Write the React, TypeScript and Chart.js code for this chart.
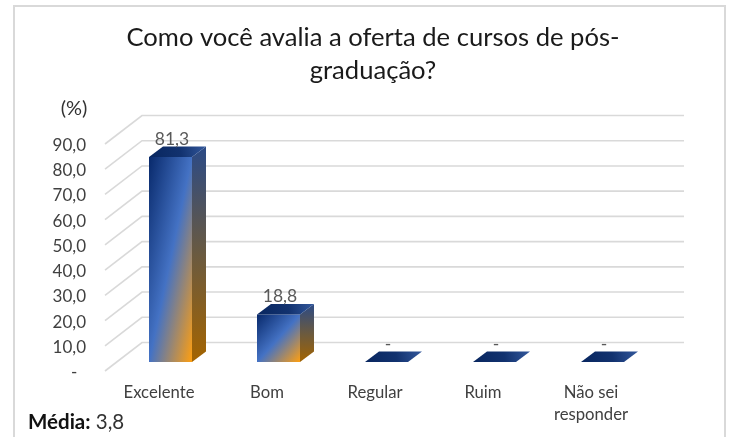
import React, { useEffect, useRef } from "react";
import { Chart, registerables } from "chart.js";

Chart.register(...registerables);

const categories = ["Excelente", "Bom", "Regular", "Ruim", ["Não sei", "responder"]];
const values = [81.3, 18.8, 0, 0, 0];
const valueLabels = ["81,3", "18,8", "-", "-", "-"];
const titleLines = ["Como você avalia a oferta de cursos de pós-", "graduação?"];
const unitLabel = "(%)";
const noteBold = "Média:";
const noteValue = " 3,8";

const FONT = "Lato, Carlito, sans-serif";
const GRID = "#d9d9d9";
// oblique projection of the 3D chart
const WALL_DX = 37;
const WALL_DY = -28.5;
const BAR_DX = 11.5;
const BAR_DY = -9;
const DEPTH_DX = 14;
const DEPTH_DY = -10.5;
const BAR_W = 43;

function frontGradient(ctx: CanvasRenderingContext2D, x: number, y: number, w: number, h: number) {
  const k = 2 * w * h / (h * h + w * w);
  const g = ctx.createLinearGradient(x, y, x + k * h, y + k * w);
  g.addColorStop(0, "#08296b");
  g.addColorStop(0.5, "#4472c4");
  g.addColorStop(1, "#ff9f10");
  return g;
}

const wallPlugin = {
  id: "wall",
  beforeDraw(chart: any) {
    const { ctx, chartArea, scales } = chart;
    const y = scales.y;
    ctx.save();
    ctx.fillStyle = "#ffffff";
    ctx.fillRect(0, 0, chart.width, chart.height);
    ctx.strokeStyle = GRID;
    ctx.lineWidth = 2;
    ctx.strokeRect(14, 6, 711, 440);
    ctx.lineWidth = 1.6;
    y.ticks.forEach((t: any) => {
      const py = y.getPixelForValue(t.value);
      ctx.beginPath();
      ctx.moveTo(chartArea.left, py);
      ctx.lineTo(chartArea.left + WALL_DX, py + WALL_DY);
      ctx.lineTo(chartArea.right + WALL_DX + 2, py + WALL_DY);
      ctx.stroke();
    });
    ctx.restore();
  },
  beforeDatasetsDraw(chart: any) {
    chart.ctx.save();
    chart.ctx.translate(BAR_DX, BAR_DY);
  },
  afterDatasetsDraw(chart: any) {
    const { ctx } = chart;
    const meta = chart.getDatasetMeta(0);
    meta.data.forEach((el: any, i: number) => {
      const left = el.x - el.width / 2;
      const right = el.x + el.width / 2;
      const top = el.y;
      const bottom = el.base;
      // side face
      if (bottom - top > 0.5) {
        const s = ctx.createLinearGradient(0, top + DEPTH_DY, 0, bottom);
        s.addColorStop(0, "#2b4a86");
        s.addColorStop(0.5, "#6a5a40");
        s.addColorStop(1, "#a46400");
        ctx.fillStyle = s;
        ctx.beginPath();
        ctx.moveTo(right, top);
        ctx.lineTo(right + DEPTH_DX, top + DEPTH_DY);
        ctx.lineTo(right + DEPTH_DX, bottom + DEPTH_DY);
        ctx.lineTo(right, bottom);
        ctx.closePath();
        ctx.fill();
      }
      // top face
      const t = ctx.createLinearGradient(left, top, right + DEPTH_DX, top + DEPTH_DY);
      t.addColorStop(0, "#08265f");
      t.addColorStop(0.55, "#12326f");
      t.addColorStop(1, "#33589c");
      ctx.fillStyle = t;
      ctx.beginPath();
      ctx.moveTo(left, top);
      ctx.lineTo(left + DEPTH_DX, top + DEPTH_DY);
      ctx.lineTo(right + DEPTH_DX, top + DEPTH_DY);
      ctx.lineTo(right, top);
      ctx.closePath();
      ctx.fill();
      // value label
      ctx.fillStyle = "#595959";
      ctx.font = `17.5px ${FONT}`;
      ctx.textAlign = "center";
      ctx.textBaseline = "middle";
      ctx.fillText(valueLabels[i], el.x + 1.5, top - 18);
    });
    ctx.restore();

    ctx.save();
    ctx.textBaseline = "middle";
    ctx.textAlign = "center";
    ctx.fillStyle = "#333333";
    ctx.font = `20px ${FONT}`;
    ctx.fillText(unitLabel, 74, 109);
    ctx.textAlign = "left";
    ctx.fillStyle = "#111111";
    ctx.font = `bold 20.5px ${FONT}`;
    ctx.fillText(noteBold, 28, 422);
    const w = ctx.measureText(noteBold).width;
    ctx.fillStyle = "#333333";
    ctx.font = `20.5px ${FONT}`;
    ctx.fillText(noteValue, 28 + w, 422);
    ctx.restore();
  },
};

export default function App() {
  const ref = useRef<HTMLCanvasElement>(null);
  useEffect(() => {
    document.body.style.margin = "0";
    const chart = new Chart(ref.current as HTMLCanvasElement, {
      type: "bar",
      plugins: [wallPlugin],
      data: {
        labels: categories as any,
        datasets: [
          {
            data: values,
            barPercentage: BAR_W / 108,
            categoryPercentage: 1,
            clip: false as any,
            borderWidth: 0,
            backgroundColor: (c: any) => {
              const { chart: ch, dataIndex } = c;
              if (!ch.chartArea) return "#4472c4";
              const x = ch.scales.x.getPixelForValue(dataIndex) - BAR_W / 2;
              const top = ch.scales.y.getPixelForValue(values[dataIndex]);
              const h = ch.scales.y.getPixelForValue(0) - top;
              if (h <= 0) return "#4472c4";
              return frontGradient(ch.ctx, x, top, BAR_W, h);
            },
          },
        ],
      },
      options: {
        animation: false,
        responsive: false,
        layout: { padding: { top: 21.5, left: 10, right: 0, bottom: 0 } },
        plugins: {
          legend: { display: false },
          tooltip: { enabled: false },
          title: {
            display: true,
            text: titleLines,
            color: "#1a1a1a",
            font: { family: FONT, size: 25.6, weight: "normal", lineHeight: 33 / 25.6 },
            padding: { top: 0, bottom: 56.5 },
          },
        },
        scales: {
          x: {
            type: "category",
            grid: { display: false, drawTicks: false },
            border: { display: false },
            afterFit: (s: any) => { s.height = 66; },
            ticks: {
              color: "#404040",
              maxRotation: 0,
              autoSkip: false,
              padding: 11,
              font: { family: FONT, size: 16.7, lineHeight: 1.3 },
            },
          },
          y: {
            min: 0,
            max: 90,
            grid: { display: false, drawTicks: false },
            border: { display: false },
            afterFit: (s: any) => { s.width = 95; },
            ticks: {
              stepSize: 10,
              color: "#404040",
              padding: 19,
              labelOffset: 1.5,
              font: { family: FONT, size: 17 },
              callback: (v: any) => (v === 0 ? "-  " : Number(v).toFixed(1).replace(".", ",")),
            },
          },
          yRight: {
            position: "right",
            display: true,
            min: 0,
            max: 90,
            grid: { display: false, drawTicks: false },
            border: { display: false },
            ticks: { display: false },
            afterFit: (s: any) => { s.width = 91; },
          },
        },
      } as any,
    });
    return () => chart.destroy();
  }, []);
  return <canvas ref={ref} width={736} height={437} style={{ display: "block" }} />;
}
